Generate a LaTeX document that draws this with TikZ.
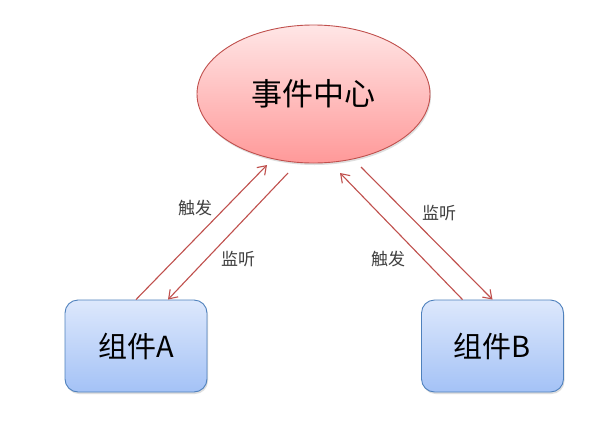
\documentclass[tikz,border=0pt]{standalone}
\usepackage{fontspec}
\setmainfont{Noto Sans CJK SC}
\usetikzlibrary{shapes.geometric,arrows.meta,shadows}
\definecolor{ellt}{HTML}{FFE6E6}
\definecolor{ellb}{HTML}{FF9999}
\definecolor{ellborder}{HTML}{C0504D}
\definecolor{boxt}{HTML}{DDE8FC}
\definecolor{boxb}{HTML}{A4C2F6}
\definecolor{boxborder}{HTML}{4F81BD}
\definecolor{arrc}{HTML}{C0504D}
\definecolor{lblc}{HTML}{404040}
\begin{document}
\begin{tikzpicture}[x=1pt,y=-1pt,
 softshadow/.style={drop shadow={shadow xshift=1pt, shadow yshift=-2pt, opacity=0.18, fill=black!70}},
 ell/.style={ellipse, draw=ellborder, line width=0.9pt, top color=ellt, bottom color=ellb, softshadow,
   minimum width=233pt, minimum height=138pt, inner sep=0pt, font=\fontsize{31}{36}\selectfont},
 comp/.style={rectangle, rounded corners=13pt, draw=boxborder, line width=0.9pt, top color=boxt, bottom color=boxb, softshadow,
   minimum width=142pt, minimum height=92pt, inner sep=0pt, font=\fontsize{29}{34}\selectfont},
 arr/.style={draw=arrc, line width=1.1pt, -{Straight Barb[length=8pt,width=11pt]}},
 lbl/.style={text=lblc, font=\fontsize{17}{20}\selectfont, inner sep=0pt}]
\useasboundingbox (0,0) rectangle (612,431);
\fill[white] (0,0) rectangle (612,431);
\node[ell] (E) at (313.5,94) {事件中心};
\node[comp] (A) at (136,346) {组件A};
\node[comp] (B) at (492.5,346) {组件B};
\coordinate (eA1) at (267,165);
\coordinate (eA2) at (288,173);
\coordinate (eB1) at (340,173);
\coordinate (eB2) at (361,167);
\draw[arr] (A.north) -- (eA1);
\draw[arr] (eA2) -- ([xshift=32pt]A.north);
\draw[arr] ([xshift=-30pt]B.north) -- (eB1);
\draw[arr] (eB2) -- (B.north);
\node[lbl] (l1) at (195,208) {触发};
\node[lbl] (l2) at (238,259) {监听};
\node[lbl] (l3) at (439,213) {监听};
\node[lbl] (l4) at (388,259) {触发};
\end{tikzpicture}
\end{document}
